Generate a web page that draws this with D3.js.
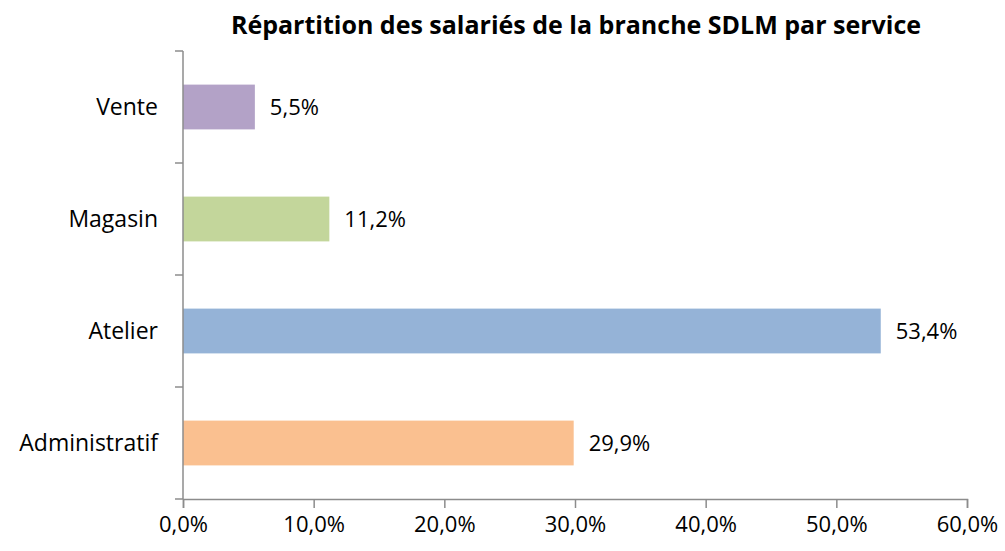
<!DOCTYPE html>
<html>
<head>
<meta charset="utf-8">
<script src="https://cdn.jsdelivr.net/npm/d3@7"></script>
<style>
  body { margin: 0; background: #fff; }
  text { font-family: "Open Sans", sans-serif; fill: #000; }
</style>
</head>
<body>
<svg></svg>
<script>
var categories = ["Vente", "Magasin", "Atelier", "Administratif"];
var values = [5.5, 11.2, 53.4, 29.9];
var colors = ["#b3a2c7", "#c3d69b", "#95b3d7", "#fac090"];
var xTicks = [0, 10, 20, 30, 40, 50, 60];
var title = "Répartition des salariés de la branche SDLM par service";

var margin = {top: 51, right: 38, bottom: 52, left: 183},
    width = 1005 - margin.left - margin.right,
    height = 551 - margin.top - margin.bottom;

var fmt = function(v) { return d3.format(".1f")(v).replace(".", ",") + "%"; };

var svg = d3.select("svg")
    .attr("width", 1005)
    .attr("height", 551);

svg.append("text")
    .attr("x", 576)
    .attr("y", 34)
    .attr("text-anchor", "middle")
    .style("font-family", "'Liberation Sans Narrow', 'Open Sans', sans-serif")
    .style("font-weight", "bold")
    .style("font-size", "25px")
    .text(title);

var g = svg.append("g")
    .attr("transform", "translate(" + margin.left + "," + margin.top + ")");

var x = d3.scaleLinear()
    .domain([0, 60])
    .range([0, width]);

var y = d3.scaleBand()
    .domain(categories)
    .range([0, height])
    .paddingInner(0.6)
    .paddingOuter(0.3);

var yEdges = d3.scaleLinear().domain([0, categories.length]).range([0, height]);

// bars
g.selectAll(".bar")
    .data(values)
    .enter()
    .append("rect")
        .attr("x", 0)
        .attr("y", function(d, i) { return y(categories[i]); })
        .attr("width", function(d) { return x(d); })
        .attr("height", y.bandwidth())
        .attr("fill", function(d, i) { return colors[i]; });

// value labels
g.selectAll(".lbl")
    .data(values)
    .enter()
    .append("text")
        .attr("x", function(d) { return x(d) + 15; })
        .attr("y", function(d, i) { return y(categories[i]) + y.bandwidth() / 2; })
        .attr("dy", "0.35em")
        .style("font-size", "22px")
        .text(fmt);

// x axis
var xAxis = g.append("g")
    .attr("transform", "translate(0," + height + ")")
    .call(d3.axisBottom(x).tickValues(xTicks).tickSize(9).tickSizeOuter(9).tickFormat(fmt));
xAxis.selectAll("line, path").attr("stroke", "#8c8c8c").attr("stroke-width", 1.5);
xAxis.selectAll("text").style("font-size", "22px").style("font-family", "'Open Sans', sans-serif").attr("y", 17);

// y axis: ticks between categories
var yAxis = g.append("g");
yAxis.append("line")
    .attr("x1", 0).attr("x2", 0)
    .attr("y1", 0).attr("y2", height)
    .attr("stroke", "#8c8c8c").attr("stroke-width", 1.5);
yAxis.selectAll(".tk")
    .data(d3.range(categories.length + 1))
    .enter()
    .append("line")
        .attr("x1", -8).attr("x2", 0)
        .attr("y1", function(d) { return yEdges(d); })
        .attr("y2", function(d) { return yEdges(d); })
        .attr("stroke", "#8c8c8c").attr("stroke-width", 1.5);
yAxis.selectAll(".cat")
    .data(categories)
    .enter()
    .append("text")
        .attr("x", -25)
        .attr("y", function(d) { return y(d) + y.bandwidth() / 2; })
        .attr("dy", "0.35em")
        .attr("text-anchor", "end")
        .style("font-size", "23px")
        .text(function(d) { return d; });
</script>
</body>
</html>
